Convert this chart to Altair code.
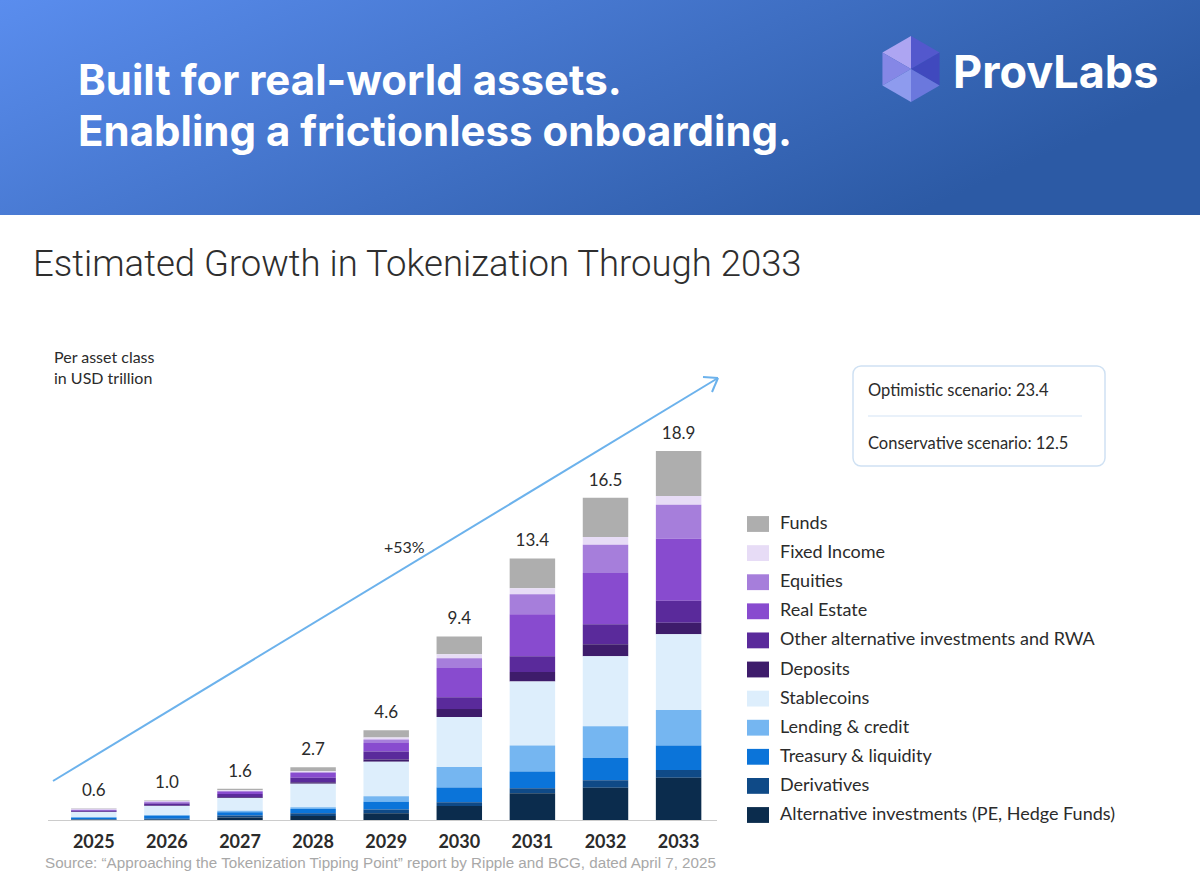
import altair as alt
import pandas as pd

# ---- data: tokenized value per asset class, USD trillion ----
years = ["2025", "2026", "2027", "2028", "2029", "2030", "2031", "2032", "2033"]
total_labels = [0.6, 1.0, 1.6, 2.7, 4.6, 9.4, 13.4, 16.5, 18.9]

# legend order (top of stack first)
categories = [
    "Funds",
    "Fixed Income",
    "Equities",
    "Real Estate",
    "Other alternative investments and RWA",
    "Deposits",
    "Stablecoins",
    "Lending & credit",
    "Treasury & liquidity",
    "Derivatives",
    "Alternative investments (PE, Hedge Funds)",
]
colors = [
    "#AEAEAE", "#E7DCF6", "#A67EDB", "#884BCF", "#5A2A9B", "#3E1C6B",
    "#DDEEFC", "#75B6F1", "#0B74D9", "#0F4A87", "#0B2C4D",
]

funds        = [0.03, 0.03, 0.07, 0.20, 0.38, 0.91, 1.53, 2.01, 2.30]
fixed_income = [0.04, 0.04, 0.05, 0.06, 0.10, 0.20, 0.31, 0.39, 0.45]
equities     = [0.02, 0.03, 0.02, 0.03, 0.17, 0.51, 1.02, 1.45, 1.74]
real_estate  = [0.03, 0.06, 0.13, 0.25, 0.44, 1.49, 2.15, 2.63, 3.18]
other_alt    = [0.06, 0.10, 0.17, 0.23, 0.41, 0.61, 0.81, 1.02, 1.13]
deposits     = [0.01, 0.02, 0.03, 0.07, 0.12, 0.41, 0.49, 0.61, 0.58]
stablecoins  = [0.26, 0.46, 0.66, 1.21, 1.76, 2.56, 3.28, 3.59, 3.89]
lending      = [0.03, 0.04, 0.07, 0.09, 0.29, 1.05, 1.33, 1.62, 1.82]
treasury     = [0.08, 0.15, 0.17, 0.22, 0.39, 0.75, 0.85, 1.14, 1.25]
derivatives  = [0.03, 0.06, 0.10, 0.14, 0.20, 0.19, 0.26, 0.39, 0.39]
alt_invest   = [0.01, 0.01, 0.13, 0.20, 0.34, 0.72, 1.37, 1.65, 2.17]

series = [funds, fixed_income, equities, real_estate, other_alt, deposits,
          stablecoins, lending, treasury, derivatives, alt_invest]

legend_font = "Lato"
ink = "#2B2B2B"

rows = []
n = len(categories)
for ci, (cat, vals) in enumerate(zip(categories, series)):
    for yr, v in zip(years, vals):
        rows.append({"year": yr, "category": cat, "value": v, "rank": n - 1 - ci})
bars_df = pd.DataFrame(rows)
totals_df = pd.DataFrame({"year": years, "total": total_labels})
one = pd.DataFrame({"k": [0]})

x_scale = alt.Scale(domain=years, range=[57.25, 715.15], paddingInner=0.378, paddingOuter=0.189)
y_scale = alt.Scale(domain=[0, 42.0], range=[820, 0])

bars = alt.Chart(bars_df).mark_bar().encode(
    x=alt.X("year:N", scale=x_scale, axis=None),
    y=alt.Y("value:Q", stack="zero", scale=y_scale, axis=None),
    color=alt.Color(
        "category:N",
        scale=alt.Scale(domain=categories, range=colors),
        legend=alt.Legend(
            orient="none", legendX=747, legendY=513, title=None,
            symbolType="M-1,-0.72L1,-0.72L1,0.72L-1,0.72Z", symbolSize=484,
            symbolStrokeWidth=0, symbolOpacity=1, labelFont=legend_font,
            labelFontSize=18, labelColor=ink, labelOffset=11, rowPadding=9.1,
            padding=0, labelLimit=500,
        ),
    ),
    order=alt.Order("rank:Q", sort="ascending"),
)

value_labels = alt.Chart(totals_df).mark_text(
    font=legend_font, fontSize=17, color=ink, baseline="alphabetic", dy=-12
).encode(
    x=alt.X("year:N", scale=x_scale, axis=None),
    y=alt.Y("total:Q", scale=y_scale, axis=None),
    text=alt.Text("total:Q", format=".1f"),
)

year_labels = alt.Chart(totals_df).mark_text(
    font=legend_font, fontSize=18, fontWeight="bold", color=ink, baseline="alphabetic"
).encode(
    x=alt.X("year:N", scale=x_scale, axis=None),
    y=alt.value(848),
    text="year:N",
)

baseline = alt.Chart(one).mark_rule(color="#CCCCCC", strokeWidth=1.2).encode(
    x=alt.value(48), x2=alt.value(717), y=alt.value(820.5)
)

# ---- header band ----
header_grad = alt.Gradient(
    gradient="linear",
    stops=[alt.GradientStop(offset=0, color="#5A8DEE"),
           alt.GradientStop(offset=1, color="#2C5AA5")],
    x1=0, x2=1, y1=0, y2=0.4,
)
header = alt.Chart(one).mark_rect(color=header_grad).encode(
    x=alt.value(0), x2=alt.value(1200), y=alt.value(0), y2=alt.value(215)
)


def label(txt, x, y, size, font=legend_font, color=ink, weight="normal",
          align="left", baseline="alphabetic"):
    return alt.Chart(one).mark_text(
        text=txt, font=font, fontSize=size, color=color, fontWeight=weight,
        align=align, baseline=baseline,
    ).encode(x=alt.value(x), y=alt.value(y))


head1 = label("Built for real-world assets.", 78, 95, 42, font="Inter", color="white", weight="bold")
head2 = label("Enabling a frictionless onboarding.", 78, 146, 42, font="Inter", color="white", weight="bold")
brand = label("ProvLabs", 953, 88, 45, font="Inter", color="white", weight="bold")

# logo: faceted hexagon
facets = [
    ("M0,-1L-0.866,-0.5L0,0Z", "#ADA5F2"),
    ("M-0.866,-0.5L-0.866,0.5L0,0Z", "#8587E6"),
    ("M0,-1L0.866,-0.5L0,0Z", "#5358CD"),
    ("M0.866,-0.5L0.866,0.5L0,0Z", "#4049BE"),
    ("M0.866,0.5L0,1L0,0Z", "#6B78DD"),
    ("M-0.866,0.5L0,1L0,0Z", "#8E9BEE"),
]
logo = [
    alt.Chart(one).mark_point(shape=p, filled=True, size=4356, color=c, opacity=1, strokeWidth=0)
    .encode(x=alt.value(911), y=alt.value(69))
    for p, c in facets
]

title = label("Estimated Growth in Tokenization Through 2033", 33, 276, 36.5,
              font="Roboto", color="#2E2E2E", weight=300)
unit1 = label("Per asset class", 54, 363, 16)
unit2 = label("in USD trillion", 54, 384, 16)
growth = label("+53%", 384, 553, 16)

# growth arrow
arrow_color = "#6CB2EC"
arrow = alt.Chart(one).mark_rule(color=arrow_color, strokeWidth=2).encode(
    x=alt.value(53), y=alt.value(781), x2=alt.value(718), y2=alt.value(378)
)
head_a = alt.Chart(one).mark_rule(color=arrow_color, strokeWidth=2).encode(
    x=alt.value(718), y=alt.value(378), x2=alt.value(703), y2=alt.value(377)
)
head_b = alt.Chart(one).mark_rule(color=arrow_color, strokeWidth=2).encode(
    x=alt.value(718), y=alt.value(378), x2=alt.value(712), y2=alt.value(392)
)

# scenario box
box = alt.Chart(one).mark_rect(
    cornerRadius=8, fill="white", stroke="#CFE1F3", strokeWidth=1.5
).encode(x=alt.value(853), x2=alt.value(1105), y=alt.value(366), y2=alt.value(466))
divider = alt.Chart(one).mark_rule(color="#D3E4F5", strokeWidth=1.2).encode(
    x=alt.value(868), x2=alt.value(1082), y=alt.value(416)
)
opt = label("Optimistic scenario: 23.4", 868, 396, 16.5)
cons = label("Conservative scenario: 12.5", 868, 449, 16.5)

source = label(
    "Source: \u201cApproaching the Tokenization Tipping Point\u201d report by Ripple and BCG, dated April 7, 2025",
    45, 868, 15.2, font="Liberation Sans", color="#A8A8A8",
)

chart = alt.layer(
    header, *logo, head1, head2, brand, title, unit1, unit2,
    arrow, head_a, head_b, growth, box, divider, opt, cons,
    bars, baseline, value_labels, year_labels, source,
).properties(
    width=1200, height=888, padding=0, background="white",
    autosize=alt.AutoSizeParams(type="none"),
).configure_view(stroke=None)

chart.save("out.html", embed_options={"renderer": "svg", "actions": False})
